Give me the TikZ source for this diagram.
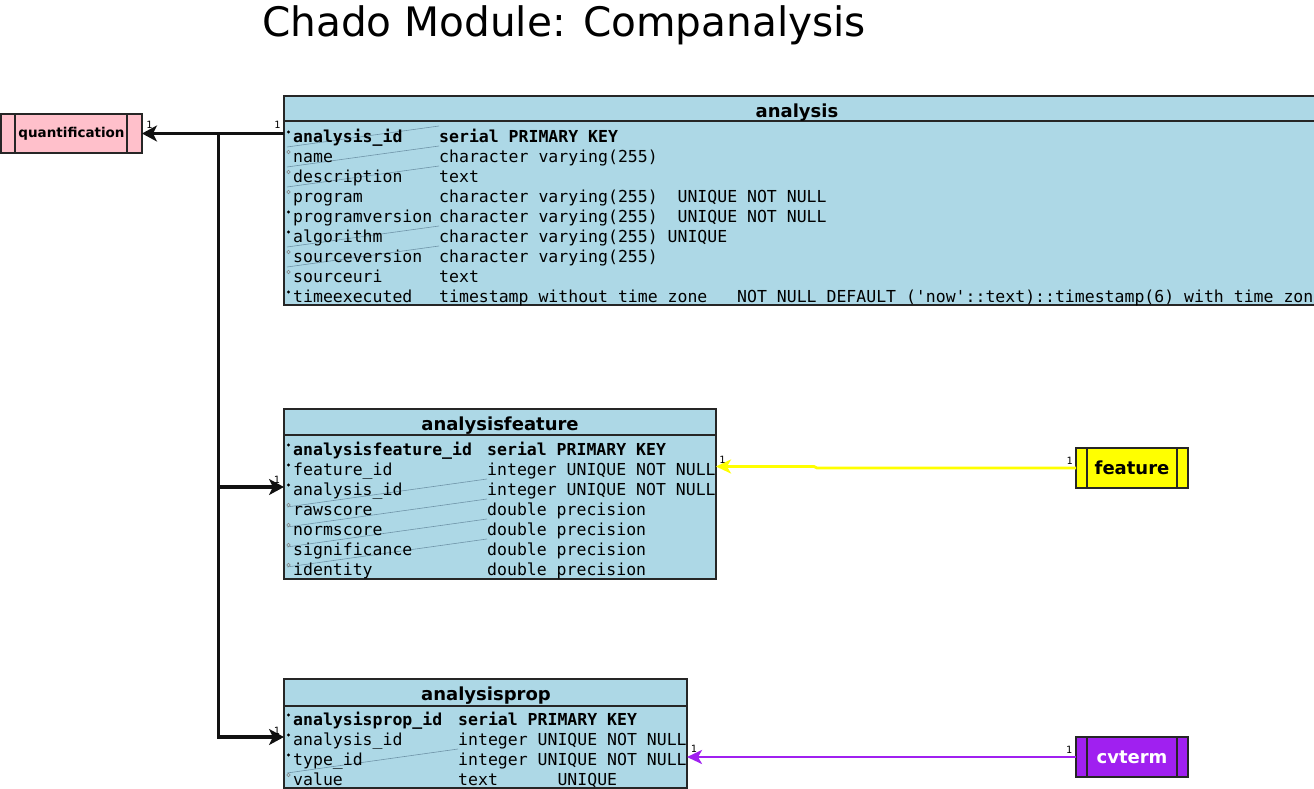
\documentclass[tikz,border=0pt]{standalone}
\usepackage{fontspec}
\setmainfont{DejaVu Sans}
\setmonofont{DejaVu Sans Mono}
\usetikzlibrary{arrows.meta}
\definecolor{tblue}{HTML}{ADD8E6}
\definecolor{qpink}{HTML}{FFC0CB}
\definecolor{fyellow}{HTML}{FFFF00}
\definecolor{cpurple}{HTML}{A020F0}
\definecolor{portline}{HTML}{6F94A8}
\definecolor{edgeblack}{HTML}{111111}
\newcommand{\fieldrow}[7]{%
  \path[#4] (288.5,{#3-4}) circle (1.7);
  \node[#5] (#1a) at (293,{#3+6.5}) {#6};
  \node[#5] (#1b) at (#2,{#3+6.5}) {#7};
}
\begin{document}
\begin{tikzpicture}[x=1pt,y=-1pt,
  title/.style={font=\fontsize{40.6}{44}\selectfont, anchor=base, inner sep=0},
  tbl/.style={draw=black!85, line width=1.8pt, fill=tblue, inner sep=0, outer sep=0, anchor=north west},
  tsep/.style={draw=black!85, line width=1.8pt},
  hdr/.style={font=\bfseries\fontsize{18}{20}\selectfont, anchor=base, inner sep=0},
  fname/.style={font=\ttfamily\fontsize{16.5}{18}\selectfont, anchor=base west, inner sep=0},
  fkey/.style={font=\ttfamily\bfseries\fontsize{16.5}{18}\selectfont, anchor=base west, inner sep=0},
  sbul/.style={fill=black},
  hbul/.style={draw=gray, line width=0.6pt},
  portln/.style={draw=portline, line width=0.6pt},
  ent/.style={draw=black!85, line width=2pt, inner sep=0, outer sep=0},
  entln/.style={draw=black!85, line width=2pt},
  fk/.style={draw=edgeblack, line width=3.3pt, -{Stealth[length=15pt,width=16pt,inset=4pt]}},
  fky/.style={draw=fyellow, line width=2.8pt, -{Stealth[length=15pt,width=14pt,inset=4pt]}},
  fkp/.style={draw=cpurple, line width=2.8pt, -{Stealth[length=15pt,width=14pt,inset=4pt]}},
  card/.style={font=\ttfamily\fontsize{10}{11}\selectfont, inner sep=0},
]
\useasboundingbox (0,0) rectangle (1314,789);
\begin{scope}
\clip (0,0) rectangle (1314,789);

\node[title] (title) at (564,37) {Chado Module: Companalysis};

% ---------- analysis table ----------
\node[tbl, minimum width=1040pt, minimum height=209pt] (analysis) at (284,96) {};
\draw[tsep] (284,121) -- (1324,121);
\node[hdr] (analysis-h) at (797,118) {analysis};
\foreach \b in {126,146,166,226,246}
  \draw[portln] (287,{\b+21}) -- (439,\b);
\fieldrow{an1}{439}{136}{sbul}{fkey}{analysis\_id}{serial PRIMARY KEY}
\fieldrow{an2}{439}{156}{hbul}{fname}{name}{character varying(255)}
\fieldrow{an3}{439}{176}{hbul}{fname}{description}{text}
\fieldrow{an4}{439}{196}{hbul}{fname}{program}{character varying(255)\ \ UNIQUE NOT NULL}
\fieldrow{an5}{439}{216}{sbul}{fname}{programversion}{character varying(255)\ \ UNIQUE NOT NULL}
\fieldrow{an6}{439}{236}{sbul}{fname}{algorithm}{character varying(255) UNIQUE}
\fieldrow{an7}{439}{256}{hbul}{fname}{sourceversion}{character varying(255)}
\fieldrow{an8}{439}{276}{hbul}{fname}{sourceuri}{text}
\fieldrow{an9}{439}{296}{sbul}{fname}{timeexecuted}{timestamp without time zone\ \ \ NOT NULL DEFAULT ('now'::text)::timestamp(6) with time zone}

% ---------- analysisfeature table ----------
\node[tbl, minimum width=432pt, minimum height=170pt] (analysisfeature) at (284,409) {};
\draw[tsep] (284,435) -- (716,435);
\node[hdr] (analysisfeature-h) at (500,430) {analysisfeature};
\foreach \b in {479,499,519,539}
  \draw[portln] (287,{\b+28}) -- (487,\b);
\fieldrow{af1}{487}{449}{sbul}{fkey}{analysisfeature\_id}{serial PRIMARY KEY}
\fieldrow{af2}{487}{469}{sbul}{fname}{feature\_id}{integer UNIQUE NOT NULL}
\fieldrow{af3}{487}{489}{sbul}{fname}{analysis\_id}{integer UNIQUE NOT NULL}
\fieldrow{af4}{487}{509}{hbul}{fname}{rawscore}{double precision}
\fieldrow{af5}{487}{529}{hbul}{fname}{normscore}{double precision}
\fieldrow{af6}{487}{549}{hbul}{fname}{significance}{double precision}
\fieldrow{af7}{487}{569}{hbul}{fname}{identity}{double precision}

% ---------- analysisprop table ----------
\node[tbl, minimum width=403pt, minimum height=109pt] (analysisprop) at (284,679) {};
\draw[tsep] (284,706) -- (687,706);
\node[hdr] (analysisprop-h) at (486,700) {analysisprop};
\draw[portln] (287,773) -- (458,749);
\fieldrow{ap1}{458}{719}{sbul}{fkey}{analysisprop\_id}{serial PRIMARY KEY}
\fieldrow{ap2}{458}{739}{sbul}{fname}{analysis\_id}{integer UNIQUE NOT NULL}
\fieldrow{ap3}{458}{759}{sbul}{fname}{type\_id}{integer UNIQUE NOT NULL}
\fieldrow{ap4}{458}{779}{hbul}{fname}{value}{text\ \ \ \ \ \ UNIQUE}

% ---------- external entities ----------
\node[ent, fill=qpink, minimum width=141pt, minimum height=39pt,
      font=\bfseries\fontsize{13.5}{15}\selectfont] (quantification) at (71.5,133.5) {quantification};
\draw[entln] ([xshift=14pt]quantification.north west) -- ([xshift=14pt]quantification.south west);
\draw[entln] ([xshift=-15pt]quantification.north east) -- ([xshift=-15pt]quantification.south east);

\node[ent, fill=fyellow, minimum width=112pt, minimum height=40pt,
      font=\bfseries\fontsize{18}{20}\selectfont] (feature) at (1132,468) {feature};
\draw[entln] ([xshift=11pt]feature.north west) -- ([xshift=11pt]feature.south west);
\draw[entln] ([xshift=-11pt]feature.north east) -- ([xshift=-11pt]feature.south east);

\node[ent, fill=cpurple, text=white, minimum width=112pt, minimum height=40pt,
      font=\bfseries\fontsize{18}{20}\selectfont] (cvterm) at (1132,757) {cvterm};
\draw[entln] ([xshift=11pt]cvterm.north west) -- ([xshift=11pt]cvterm.south west);
\draw[entln] ([xshift=-11pt]cvterm.north east) -- ([xshift=-11pt]cvterm.south east);

% ---------- connectors ----------
\coordinate (junc) at (218.3,133.5);
\coordinate (af-aport) at (284,487);
\coordinate (ap-aport) at (284,737);
\coordinate (af-fport) at (716,466.5);
\coordinate (ap-tport) at (687,757);
\draw[fk] (analysis.west |- quantification.east) -- (quantification.east);
\draw[fk] (junc) |- (af-aport);
\draw[fk] (junc) |- (ap-aport);
\draw[fky] (feature.west) -- (817,468) -- (814,466.5) -- (af-fport);
\draw[fkp] (cvterm.west) -- (ap-tport);

% ---------- cardinalities ----------
\node[card] (c1) at (149.5,125) {1};
\node[card] (c2) at (277.5,125) {1};
\node[card] (c3) at (277,479.5) {1};
\node[card] (c4) at (722.5,459.5) {1};
\node[card] (c5) at (1069.5,460.5) {1};
\node[card] (c6) at (277,730.5) {1};
\node[card] (c7) at (694,749) {1};
\node[card] (c8) at (1069,749.5) {1};
\end{scope}
\end{tikzpicture}
\end{document}
